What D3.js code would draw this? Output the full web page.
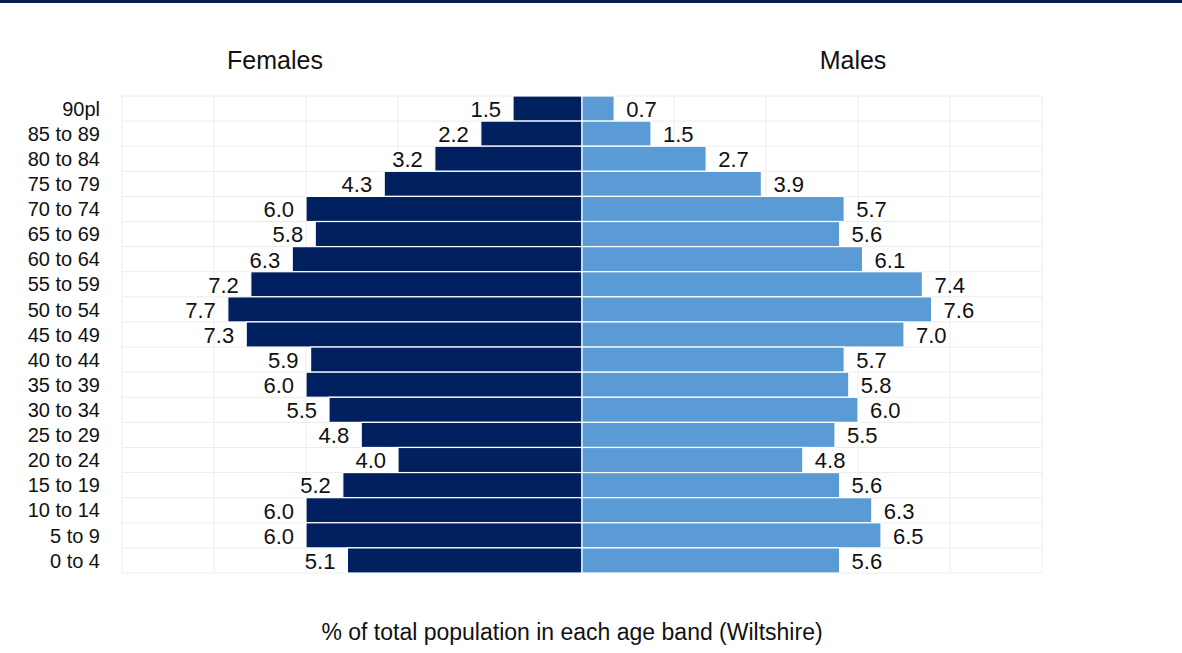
<!doctype html>
<html>
  <head>
    <meta charset="utf-8">
    <script src="https://d3js.org/d3.v7.min.js"></script>
    <style>
      body { margin: 0; background: #fff; }
      svg text { font-family: "Liberation Sans", Arial, sans-serif; fill: #111; }
    </style>
  </head>
  <body>
    <svg id="chart" width="1182" height="653"></svg>
    <script>
      /* age bands, top of the pyramid first */
      var ageBands = ["90pl", "85 to 89", "80 to 84", "75 to 79", "70 to 74", "65 to 69",
        "60 to 64", "55 to 59", "50 to 54", "45 to 49", "40 to 44", "35 to 39",
        "30 to 34", "25 to 29", "20 to 24", "15 to 19", "10 to 14", "5 to 9", "0 to 4"];
      var females = [1.5, 2.2, 3.2, 4.3, 6.0, 5.8, 6.3, 7.2, 7.7, 7.3, 5.9, 6.0, 5.5, 4.8, 4.0, 5.2, 6.0, 6.0, 5.1];
      var males = [0.7, 1.5, 2.7, 3.9, 5.7, 5.6, 6.1, 7.4, 7.6, 7.0, 5.7, 5.8, 6.0, 5.5, 4.8, 5.6, 6.3, 6.5, 5.6];
      var gridTicks = [-10, -8, -6, -4, -2, 0, 2, 4, 6, 8, 10];

      var svg = d3.select("#chart");

      /* dark strip along the top edge */
      svg.append("rect").attr("x", 0).attr("y", 0).attr("width", 1182).attr("height", 3)
        .style("fill", "#0b1f4d");

      var x = d3.scaleLinear().domain([-10, 10]).range([122, 1042]);
      var y = d3.scaleBand().domain(ageBands).range([96, 573]).padding(0);

      /* vertical gridlines */
      svg.append("g").selectAll("line").data(gridTicks).enter().append("line")
        .attr("x1", d => x(d)).attr("x2", d => x(d))
        .attr("y1", y.range()[0]).attr("y2", y.range()[1])
        .style("stroke", "#ececec").style("stroke-width", 1);

      /* horizontal lines between the bands */
      var edges = ageBands.map(d => y(d)).concat([y.range()[1]]);
      svg.append("g").selectAll("line").data(edges).enter().append("line")
        .attr("x1", x(-10)).attr("x2", x(10))
        .attr("y1", d => d).attr("y2", d => d)
        .style("stroke", "#ececec").style("stroke-width", 1);

      var rows = ageBands.map((a, i) => ({ age: a, f: females[i], m: males[i] }));

      /* female bars, going left */
      svg.append("g").selectAll("rect").data(rows).enter().append("rect")
        .attr("x", d => x(-d.f)).attr("y", d => y(d.age))
        .attr("width", d => x(0) - x(-d.f)).attr("height", y.bandwidth())
        .style("fill", "#00205f").style("stroke", "#fff").style("stroke-width", 1.2);

      /* male bars, going right */
      svg.append("g").selectAll("rect").data(rows).enter().append("rect")
        .attr("x", x(0)).attr("y", d => y(d.age))
        .attr("width", d => x(d.m) - x(0)).attr("height", y.bandwidth())
        .style("fill", "#5b9bd5").style("stroke", "#fff").style("stroke-width", 1.2);

      /* value labels */
      svg.append("g").selectAll("text").data(rows).enter().append("text")
        .attr("x", d => x(-d.f) - 12).attr("y", d => y(d.age) + y.bandwidth() / 2)
        .attr("dy", "0.38em").attr("text-anchor", "end")
        .style("font-size", "22px").text(d => d.f.toFixed(1));

      svg.append("g").selectAll("text").data(rows).enter().append("text")
        .attr("x", d => x(d.m) + 12).attr("y", d => y(d.age) + y.bandwidth() / 2)
        .attr("dy", "0.38em").attr("text-anchor", "start")
        .style("font-size", "22px").text(d => d.m.toFixed(1));

      /* age band labels */
      svg.append("g").selectAll("text").data(ageBands).enter().append("text")
        .attr("x", 100).attr("y", d => y(d) + y.bandwidth() / 2)
        .attr("dy", "0.36em").attr("text-anchor", "end")
        .style("font-size", "20px").text(d => d);

      /* titles */
      svg.append("text").attr("x", 275).attr("y", 69).attr("text-anchor", "middle")
        .style("font-size", "25px").text("Females");
      svg.append("text").attr("x", 853).attr("y", 69).attr("text-anchor", "middle")
        .style("font-size", "25px").text("Males");
      svg.append("text").attr("x", 572).attr("y", 640).attr("text-anchor", "middle")
        .style("font-size", "23px").text("% of total population in each age band (Wiltshire)");
    </script>
  </body>
</html>
